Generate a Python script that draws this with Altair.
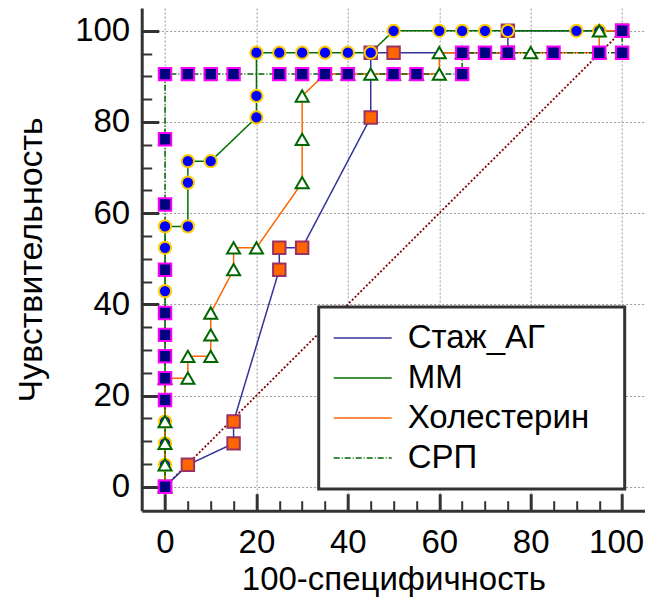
import altair as alt
import pandas as pd

series_names = ["Стаж_АГ", "ММ", "Холестерин", "СРП"]

# 100-specificity (x) and sensitivity (y) for each ROC curve
stazh_x = [0, 5, 15, 15, 25, 25, 30, 45, 45, 50, 75, 75, 100]
stazh_y = [0, 4.8, 9.5, 14.3, 47.6, 52.4, 52.4, 81.0, 95.2, 95.2, 95.2, 100, 100]

mm_x = [0, 0, 0, 0, 0, 0, 0, 5, 5, 5, 10, 20, 20, 20, 25, 30, 35, 40, 45, 50, 60, 65, 70, 75, 90, 95, 100]
mm_y = [0, 4.8, 9.5, 14.3, 42.9, 52.4, 57.1, 57.1, 66.7, 71.4, 71.4, 81.0, 85.7, 95.2, 95.2, 95.2, 95.2,
        95.2, 95.2, 100, 100, 100, 100, 100, 100, 100, 100]

chol_x = [0, 0, 0, 0, 0, 5, 5, 10, 10, 10, 15, 15, 20, 30, 30, 30, 35, 40, 45, 50, 55, 60, 60, 65, 75, 80, 95, 95, 100]
chol_y = [0, 4.8, 9.5, 14.3, 23.8, 23.8, 28.6, 28.6, 33.3, 38.1, 47.6, 52.4, 52.4, 66.7, 76.2, 85.7, 90.5,
          90.5, 90.5, 90.5, 90.5, 90.5, 95.2, 95.2, 95.2, 95.2, 95.2, 100, 100]

srp_x = [0, 0, 0, 0, 0, 0, 0, 0, 0, 0, 5, 10, 15, 25, 30, 35, 40, 50, 55, 65, 65, 70, 75, 85, 95, 100, 100]
srp_y = [0, 19.0, 23.8, 28.6, 33.3, 38.1, 47.6, 61.9, 76.2, 90.5, 90.5, 90.5, 90.5, 90.5, 90.5, 90.5, 90.5,
         90.5, 90.5, 90.5, 95.2, 95.2, 95.2, 95.2, 95.2, 95.2, 100]

diag_x = [0, 100]
diag_y = [0, 100]

all_ticks = list(range(0, 101, 5))

line_colors = ["#333399", "#007000", "#ff6600", "#006600"]
dash_styles = [[1, 0], [1, 0], [1, 0], [6, 2, 1, 2]]
marker_shapes = ["square", "circle", "triangle-up", "square"]
marker_fills = ["#ff6600", "#0000ff", "#ffffff", "#000080"]
marker_strokes = ["#993366", "#ffcc00", "#006600", "#ff00ff"]
marker_sizes = [155, 150, 170, 155]

rows = []
for name, xs, ys in zip(series_names, [stazh_x, mm_x, chol_x, srp_x], [stazh_y, mm_y, chol_y, srp_y]):
    for i, (xv, yv) in enumerate(zip(xs, ys)):
        rows.append({"series": name, "x": xv, "y": yv, "i": i})
df = pd.DataFrame(rows)
diag_df = pd.DataFrame({"x": diag_x, "y": diag_y})

FONT = "Liberation Sans"
major_test = "datum.value % 20 === 0"


def make_axis(title, label_padding, title_padding, title_size, extra=None):
    kw = dict(
        values=all_ticks,
        labelExpr=f"{major_test} ? datum.label : ''",
        labelOverlap=False,
        labelFlush=False,
        tickSize={"condition": {"test": major_test, "value": -17}, "value": -10},
        tickWidth={"condition": {"test": major_test, "value": 3}, "value": 2},
        tickColor="#333333",
        domainColor="#333333",
        domainWidth=3,
        grid=True,
        gridColor="#999999",
        gridDash=[2, 2],
        gridWidth=1,
        gridOpacity={"condition": {"test": major_test, "value": 1}, "value": 0},
        labelFont=FONT,
        labelFontSize=33,
        labelColor="black",
        labelPadding=label_padding,
        title=title,
        titleFont=FONT,
        titleFontSize=title_size,
        titleFontWeight="normal",
        titleColor="black",
        titlePadding=title_padding,
    )
    if extra:
        kw.update(extra)
    return alt.Axis(**kw)


xscale = alt.Scale(domain=[-5.1, 105], nice=False, zero=False)
yscale = alt.Scale(domain=[-5.26, 105], nice=False, zero=False)

x_enc = alt.X(
    "x:Q",
    scale=xscale,
    axis=make_axis(
        "100-специфичность", 33, -3, 33,
        {"labelOffset": {"condition": {"test": "datum.value === 100", "value": -6}, "value": 0}},
    ),
)
y_enc = alt.Y("y:Q", scale=yscale, axis=make_axis("Чувствительность", 29, 26, 34))

diag = alt.Chart(diag_df).mark_line(color="#800000", strokeWidth=1.8, strokeDash=[2, 2]).encode(
    x=x_enc, y=y_enc
)

legend = alt.Legend(
    title=None,
    orient="none",
    legendX=177,
    legendY=299,
    symbolType="stroke",
    symbolSize=3364,
    symbolStrokeWidth=1.5,
    symbolOffset=3,
    labelFont=FONT,
    labelFontSize=33,
    labelColor="black",
    labelOffset=15,
    labelLimit=0,
    labelExpr="datum.label + '\u2800'",
    clipHeight=40,
    rowPadding=0,
    padding=11,
    fillColor="white",
    strokeColor="#333333",
)

lines = alt.Chart(df).mark_line(strokeWidth=1.5).encode(
    x=x_enc,
    y=y_enc,
    order=alt.Order("i:Q"),
    color=alt.Color("series:N", scale=alt.Scale(domain=series_names, range=line_colors), legend=legend),
    strokeDash=alt.StrokeDash("series:N", scale=alt.Scale(domain=series_names, range=dash_styles), legend=legend),
)

point_layers = []
for name, shp, fc, sc, sz in zip(series_names, marker_shapes, marker_fills, marker_strokes, marker_sizes):
    point_layers.append(
        alt.Chart(df)
        .transform_filter(alt.datum.series == name)
        .mark_point(shape=shp, fill=fc, stroke=sc, size=sz, opacity=1, fillOpacity=1, strokeWidth=2)
        .encode(x=x_enc, y=y_enc)
    )

chart = (
    alt.layer(diag, lines, *point_layers)
    .properties(
        width=503.3,
        height=502.7,
        autosize=alt.AutoSizeParams(type="none"),
        padding={"left": 133.7, "top": 0, "right": 0, "bottom": 89},
        background="white",
    )
    .configure_view(stroke=None)
    .configure_legend(strokeWidth=3)
)

chart.save("out.html", embed_options={"renderer": "svg", "actions": False})
